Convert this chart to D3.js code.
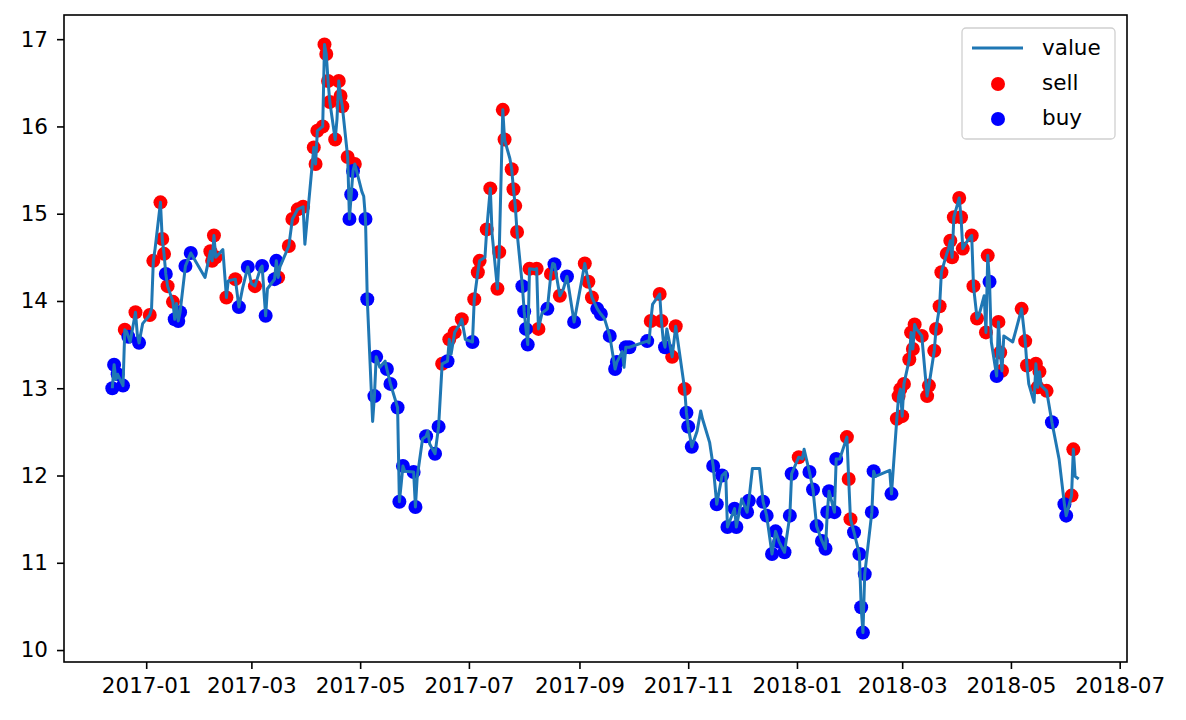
<!DOCTYPE html>
<html>
<head>
<meta charset="utf-8">
<script src="https://cdn.jsdelivr.net/npm/d3@7"></script>
<style>
  body { margin: 0; background: #fff; }
  text { font-family: "DejaVu Sans", sans-serif; }
</style>
</head>
<body>
<svg id="chart" width="1186" height="720"></svg>
<script>
// trading days, one row per month
const dates = [
  "2016-12-13","2016-12-14","2016-12-15","2016-12-16","2016-12-19","2016-12-20","2016-12-21","2016-12-22","2016-12-23","2016-12-26","2016-12-27","2016-12-28","2016-12-30",
  "2017-01-03","2017-01-04","2017-01-05","2017-01-06","2017-01-09","2017-01-10","2017-01-11","2017-01-12","2017-01-13","2017-01-16","2017-01-17","2017-01-18","2017-01-19","2017-01-20","2017-01-23","2017-01-24","2017-01-26",
  "2017-02-03","2017-02-06","2017-02-07","2017-02-08","2017-02-09","2017-02-13","2017-02-15","2017-02-16","2017-02-20","2017-02-22","2017-02-24","2017-02-27",
  "2017-03-01","2017-03-03","2017-03-06","2017-03-07","2017-03-09","2017-03-10","2017-03-14","2017-03-15","2017-03-16","2017-03-17","2017-03-22","2017-03-24","2017-03-27","2017-03-30","2017-03-31",
  "2017-04-05","2017-04-06","2017-04-07","2017-04-10","2017-04-11","2017-04-12","2017-04-13","2017-04-14","2017-04-17","2017-04-18","2017-04-19","2017-04-20","2017-04-21","2017-04-24","2017-04-25","2017-04-26","2017-04-27","2017-04-28",
  "2017-05-02","2017-05-03","2017-05-04","2017-05-05","2017-05-08","2017-05-09","2017-05-10","2017-05-12","2017-05-15","2017-05-16","2017-05-18","2017-05-22","2017-05-23","2017-05-24","2017-05-25","2017-05-26","2017-05-31",
  "2017-06-01","2017-06-02","2017-06-05","2017-06-07","2017-06-08","2017-06-09","2017-06-12","2017-06-14","2017-06-16","2017-06-19","2017-06-20","2017-06-21","2017-06-23","2017-06-26","2017-06-27","2017-06-29",
  "2017-07-03","2017-07-04","2017-07-06","2017-07-07","2017-07-10","2017-07-11","2017-07-13","2017-07-14","2017-07-17","2017-07-18","2017-07-20","2017-07-21","2017-07-24","2017-07-25","2017-07-26","2017-07-27","2017-07-28","2017-07-31",
  "2017-08-01","2017-08-02","2017-08-03","2017-08-04","2017-08-07","2017-08-08","2017-08-09","2017-08-11","2017-08-14","2017-08-16","2017-08-17","2017-08-18","2017-08-21","2017-08-23","2017-08-25","2017-08-29",
  "2017-09-04","2017-09-06","2017-09-08","2017-09-11","2017-09-13","2017-09-15","2017-09-18","2017-09-21","2017-09-22","2017-09-25","2017-09-26","2017-09-27","2017-09-29",
  "2017-10-09","2017-10-10","2017-10-11","2017-10-12","2017-10-16","2017-10-17","2017-10-18","2017-10-19","2017-10-20","2017-10-23","2017-10-25","2017-10-30","2017-10-31",
  "2017-11-01","2017-11-03","2017-11-06","2017-11-08","2017-11-09","2017-11-13","2017-11-15","2017-11-17","2017-11-20","2017-11-22","2017-11-23","2017-11-27","2017-11-28",
  "2017-12-01","2017-12-04","2017-12-05","2017-12-07","2017-12-11","2017-12-13","2017-12-15","2017-12-18","2017-12-20","2017-12-22","2017-12-25","2017-12-28","2017-12-29",
  "2018-01-02","2018-01-04","2018-01-05","2018-01-08","2018-01-10","2018-01-12","2018-01-15","2018-01-17","2018-01-18","2018-01-19","2018-01-22","2018-01-23","2018-01-25","2018-01-29","2018-01-30","2018-01-31",
  "2018-02-02","2018-02-05","2018-02-06","2018-02-07","2018-02-08","2018-02-12","2018-02-13","2018-02-14","2018-02-22","2018-02-23","2018-02-26","2018-02-27","2018-02-28",
  "2018-03-01","2018-03-02","2018-03-05","2018-03-06","2018-03-07","2018-03-08","2018-03-09","2018-03-12","2018-03-15","2018-03-16","2018-03-19","2018-03-20","2018-03-22","2018-03-23","2018-03-26","2018-03-27","2018-03-28","2018-03-29","2018-03-30",
  "2018-04-02","2018-04-03","2018-04-04","2018-04-06","2018-04-09","2018-04-10","2018-04-12","2018-04-13","2018-04-16","2018-04-17","2018-04-18","2018-04-19","2018-04-20","2018-04-23","2018-04-24","2018-04-25","2018-04-26","2018-04-27",
  "2018-05-02","2018-05-04","2018-05-07","2018-05-09","2018-05-10","2018-05-11","2018-05-14","2018-05-15","2018-05-16","2018-05-17","2018-05-18","2018-05-21","2018-05-24","2018-05-28","2018-05-31",
  "2018-06-01","2018-06-04","2018-06-05","2018-06-06","2018-06-08"
];

const values = [
  13.00,13.27,13.10,13.16,13.03,13.67,13.65,13.59,13.53,13.87,13.62,13.52,13.74,
  13.84,13.91,14.46,14.60,15.13,14.71,14.54,14.31,14.17,13.99,13.79,13.97,13.77,13.87,14.40,14.45,14.55,
  14.27,14.57,14.46,14.75,14.50,14.59,14.04,14.23,14.25,13.93,14.14,14.39,
  14.20,14.17,14.37,14.40,13.83,14.14,14.25,14.46,14.27,14.39,14.63,14.94,15.05,15.08,14.65,
  15.76,15.57,15.95,16.00,16.94,16.83,16.52,16.28,15.85,16.08,16.52,16.35,16.23,15.65,14.94,15.22,15.49,15.57,
  15.25,15.20,14.94,14.02,12.62,12.91,13.36,13.24,13.31,13.22,13.05,12.78,11.70,11.90,12.11,12.05,12.04,
  11.64,11.98,12.42,12.45,12.51,12.36,12.25,12.56,13.28,13.31,13.56,13.39,13.64,13.74,13.79,13.56,
  13.53,14.02,14.33,14.46,14.50,14.82,15.29,14.77,14.14,14.56,16.19,15.85,15.63,15.51,15.28,15.09,14.79,14.17,
  13.88,13.68,13.50,14.37,14.36,14.37,13.68,13.86,13.91,14.31,14.43,14.42,14.06,14.14,14.28,13.76,
  14.43,14.22,14.04,13.91,13.85,13.80,13.60,13.22,13.30,13.42,13.24,13.47,13.47,
  13.54,13.52,13.77,13.96,14.08,13.77,13.55,13.47,13.68,13.36,13.71,12.99,12.72,
  12.56,12.33,12.51,12.74,12.65,12.38,12.11,11.67,12.00,12.04,11.41,11.62,11.41,
  11.73,11.58,11.71,12.08,12.08,11.70,11.54,11.10,11.36,11.24,11.12,11.54,12.02,
  12.21,12.19,12.30,12.04,11.84,11.42,11.25,11.16,11.58,11.82,11.58,12.19,12.19,12.44,11.96,11.50,
  11.35,11.10,10.49,10.20,10.87,11.58,12.05,11.99,12.06,11.79,12.65,12.91,12.99,
  12.68,13.05,13.33,13.64,13.45,13.73,13.68,13.60,12.91,13.03,13.43,13.68,13.94,14.33,14.54,14.60,14.69,14.50,14.96,
  15.18,14.96,14.60,14.67,14.75,14.17,13.80,13.83,14.06,13.64,14.52,14.22,13.53,13.14,13.76,13.41,13.20,13.60,
  13.53,13.68,13.91,13.54,13.26,13.05,12.84,13.28,13.01,13.19,13.03,12.97,12.61,12.19,11.67,
  11.54,11.77,12.30,11.99,11.96
];

// s = sell, b = buy, - = hold
const actions = [
  "bb-bbs-b-s-b-",
  "s-s-sssbssb-bbb-b",
  "-ssss-s-sb-b",
  "-s-bb-bbs-ssss-",
  "sssssssss-ssssbbbs",
  "--bb-bb--bbbb-b-b",
  "b--b--bbsbs-s-s-",
  "bsss-ss-ssss-ssssb",
  "bbbs-ss-bs-bs-bb",
  "sssbb-bbb--bb",
  "b-s-ss-b-sssb",
  "bb----bbb-bbb",
  "-bb--bbbbbbbb",
  "s--bbbbbbbbb-sss",
  "bbbbbbb--bsss",
  "ssssss-ssssssss-sss",
  "sss-sss--ssb-bsss-",
  "--sss--sss-sb-b",
  "bss--"
].join("");

const xTickLabels = ["2017-01","2017-03","2017-05","2017-07","2017-09","2017-11","2018-01","2018-03","2018-05","2018-07"];
const yTickValues = [10, 11, 12, 13, 14, 15, 16, 17];
const legendLabels = ["value", "sell", "buy"];

if (dates.length !== values.length || dates.length !== actions.length) {
  console.error("length mismatch", dates.length, values.length, actions.length);
}

const parseDay = d3.timeParse("%Y-%m-%d");
const parseMonth = d3.timeParse("%Y-%m");
const points = dates.map((d, i) => ({ date: parseDay(d), value: values[i], action: actions[i] }));

const svg = d3.select("#chart");
const plotLeft = 64, plotRight = 1127, plotTop = 15, plotBottom = 662;
const dotR = 7;
const fontSize = "21.5px";

// matplotlib style 5% margins
const xExt = d3.extent(points, d => d.date);
const xPad = (xExt[1] - xExt[0]) * 0.05;
const x = d3.scaleTime()
  .domain([new Date(+xExt[0] - xPad), new Date(+xExt[1] + xPad)])
  .range([plotLeft, plotRight]);

const yExt = d3.extent(points, d => d.value);
const yPad = (yExt[1] - yExt[0]) * 0.05;
const y = d3.scaleLinear()
  .domain([yExt[0] - yPad, yExt[1] + yPad])
  .range([plotBottom, plotTop]);

// markers first, line drawn on top like matplotlib
svg.append("g")
  .selectAll("circle")
  .data(points.filter(d => d.action === "s"))
  .enter()
  .append("circle")
  .attr("cx", d => x(d.date))
  .attr("cy", d => y(d.value))
  .attr("r", dotR)
  .attr("fill", "#ff0000");

svg.append("g")
  .selectAll("circle")
  .data(points.filter(d => d.action === "b"))
  .enter()
  .append("circle")
  .attr("cx", d => x(d.date))
  .attr("cy", d => y(d.value))
  .attr("r", dotR)
  .attr("fill", "#0000ff");

svg.append("path")
  .datum(points)
  .attr("fill", "none")
  .attr("stroke", "#1f77b4")
  .attr("stroke-width", 3)
  .attr("stroke-linejoin", "round")
  .attr("d", d3.line().x(d => x(d.date)).y(d => y(d.value)));

// axes
const xAxis = svg.append("g")
  .attr("transform", `translate(0,${plotBottom})`)
  .call(d3.axisBottom(x)
    .tickValues(xTickLabels.map(parseMonth))
    .tickFormat(d3.timeFormat("%Y-%m"))
    .tickSize(7)
    .tickPadding(9));

const yAxis = svg.append("g")
  .attr("transform", `translate(${plotLeft},0)`)
  .call(d3.axisLeft(y)
    .tickValues(yTickValues)
    .tickFormat(d3.format("d"))
    .tickSize(7)
    .tickPadding(9));

[xAxis, yAxis].forEach(a => {
  a.select(".domain").remove();
  a.selectAll(".tick line").attr("stroke", "#000").attr("stroke-width", 1.6);
  a.selectAll(".tick text")
    .attr("fill", "#000")
    .attr("font-size", fontSize)
    .attr("font-family", "DejaVu Sans, sans-serif");
});

svg.append("rect")
  .attr("x", plotLeft)
  .attr("y", plotTop)
  .attr("width", plotRight - plotLeft)
  .attr("height", plotBottom - plotTop)
  .attr("fill", "none")
  .attr("stroke", "#000")
  .attr("stroke-width", 1.6);

// legend
const legend = svg.append("g").attr("transform", "translate(962,28)");
legend.append("rect")
  .attr("width", 153)
  .attr("height", 111)
  .attr("rx", 4)
  .attr("fill", "#fff")
  .attr("fill-opacity", 0.8)
  .attr("stroke", "#d0d0d0")
  .attr("stroke-width", 1.3);

legend.append("line")
  .attr("x1", 10).attr("x2", 61)
  .attr("y1", 20).attr("y2", 20)
  .attr("stroke", "#1f77b4")
  .attr("stroke-width", 3);

legend.append("circle").attr("cx", 36).attr("cy", 56).attr("r", dotR).attr("fill", "#ff0000");
legend.append("circle").attr("cx", 36).attr("cy", 91).attr("r", dotR).attr("fill", "#0000ff");

legend.selectAll("text.label")
  .data(legendLabels)
  .enter()
  .append("text")
  .attr("class", "label")
  .attr("x", 80)
  .attr("y", (d, i) => 27 + i * 35)
  .attr("font-size", fontSize)
  .attr("fill", "#000")
  .text(d => d);
</script>
</body>
</html>
